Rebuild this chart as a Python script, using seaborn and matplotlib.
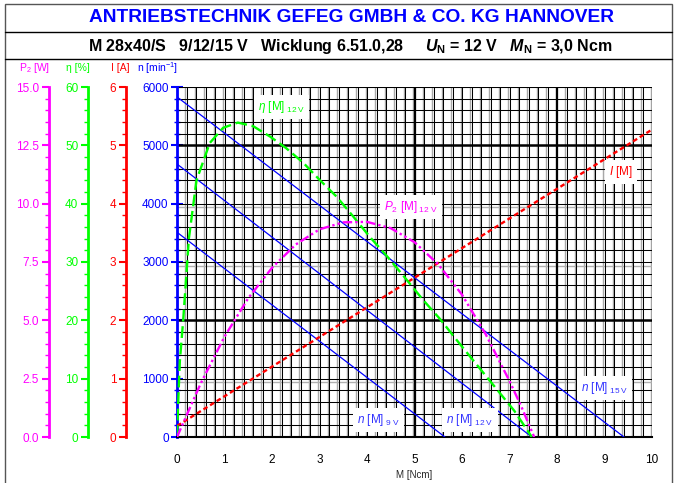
import numpy as np
import pandas as pd
import matplotlib
matplotlib.use("Agg")
import matplotlib.pyplot as plt
from matplotlib.patches import Rectangle
from matplotlib.lines import Line2D
import seaborn as sns

# ----------------------------
# Data (12 V unless noted)
# ----------------------------
# speed lines n(M): endpoints (no-load speed, stall torque)
n_torque_9v = [0.0, 5.64]
n_speed_9v = [3510, 0]
n_torque_12v = [0.0, 7.47]
n_speed_12v = [4680, 0]
n_torque_15v = [0.0, 9.41]
n_speed_15v = [5830, 0]

# current I(M)
i_torque = [0.0, 10.0]
i_amp = [0.19, 5.27]

# efficiency eta(M) at 12 V
eta_torque = [0, 0.03, 0.06, 0.13, 0.19, 0.25, 0.41, 0.69, 0.97, 1.28, 1.6, 1.96,
              2.3, 2.66, 3.0, 3.36, 3.7, 4.06, 4.42, 4.8, 5.18, 5.54, 5.9, 6.3,
              6.7, 7.1, 7.47]
eta_pct = [0, 7, 13, 20, 27, 34, 44, 50.4, 53, 53.9, 53.3, 51.5,
           49.5, 47, 44.1, 41.2, 37.9, 34.3, 31, 27.3, 23.5, 20.2, 16.5, 12.5,
           8.5, 4.5, 0]

# output power P2(M) at 12 V
p2_torque = [0, 0.5, 1.0, 1.5, 2.0, 2.5, 3.0, 3.5, 4.0, 4.5, 5.0, 5.5, 6.0, 6.5,
             7.0, 7.25, 7.52]
p2_watt = [0, 2.3, 4.3, 5.95, 7.25, 8.25, 8.9, 9.2, 9.22, 8.95, 8.35, 7.4, 6.1,
           4.4, 2.4, 1.3, 0]

x_ticks = list(range(0, 11))
n_ticks = [0, 1000, 2000, 3000, 4000, 5000, 6000]
p2_ticks = [0.0, 2.5, 5.0, 7.5, 10.0, 12.5, 15.0]
eta_ticks = [0, 10, 20, 30, 40, 50, 60]
i_ticks = [0, 1, 2, 3, 4, 5, 6]

# ----------------------------
# Style
# ----------------------------
sns.set_style("white")
plt.rcParams['font.family'] = ['Liberation Sans', 'DejaVu Sans']
plt.rcParams['mathtext.fontset'] = 'custom'
plt.rcParams['mathtext.it'] = 'Liberation Sans:italic'
plt.rcParams['mathtext.rm'] = 'Liberation Sans'
plt.rcParams['mathtext.bfit'] = 'Liberation Sans:bold:italic'

BLUE = '#0000FF'
RED = '#FF0000'
GREEN = '#00FF00'
MAGENTA = '#FF00FF'

fig = plt.figure(figsize=(6.77, 4.83), dpi=100)

# header frame
fig.patches.append(Rectangle((5 / 677, -0.05), 667 / 677, 1.05 - 4 / 483,
                             transform=fig.transFigure, fill=False,
                             edgecolor='#555555', lw=1.0))
for yl in [32, 59]:
    fig.lines.append(Line2D([5 / 677, 672 / 677], [1 - yl / 483, 1 - yl / 483],
                            transform=fig.transFigure, color='black', lw=1.0))

fig.text(352 / 677, 1 - 18 / 483, "ANTRIEBSTECHNIK GEFEG GMBH & CO. KG HANNOVER",
         ha='center', va='center', fontsize=13.8, fontweight='bold', color=BLUE)
fig.text(350 / 677, 1 - 46 / 483,
         r"M 28x40/S   9/12/15 V   Wicklung 6.51.0,28     $\mathbfit{U}_{\mathregular{N}}$ = 12 V   "
         r"$\mathbfit{M}_{\mathregular{N}}$ = 3,0 Ncm",
         ha='center', va='center', fontsize=11.5, fontweight='bold', color='black')

# ----------------------------
# Main axis (speed) + grid
# ----------------------------
L, R, B, T = 177 / 677, 652 / 677, 1 - 437 / 483, 1 - 87 / 483
ax = fig.add_axes([L, B, R - L, T - B])
ax.set_xlim(0, 10)
ax.set_ylim(0, 6000)

for xv in np.arange(0, 10.01, 0.2):
    ax.axvline(xv - 0.03, color='#a8a8a8', lw=1.0, zorder=0.5)
    ax.axvline(xv, color='black', lw=0.75, zorder=0.6)
for yv in np.arange(0, 6001, 200):
    ax.axhline(yv, color='black', lw=0.75, zorder=0.6)
for yv in [1000, 3000, 4000]:
    ax.axhline(yv - 60, color='#b0b0b0', lw=1.0, zorder=0.5)
ax.axhline(6000, color='#a0a0a0', lw=1.5, zorder=0.5)
for xv in [5, 8]:
    ax.axvline(xv, color='black', lw=1.6, zorder=0.7)
for yv in [2000, 5000]:
    ax.axhline(yv, color='black', lw=1.8, zorder=0.7)

for xs, ys in [(n_torque_9v, n_speed_9v), (n_torque_12v, n_speed_12v),
               (n_torque_15v, n_speed_15v)]:
    sns.lineplot(x=xs, y=ys, ax=ax, color=BLUE, lw=0.9, sort=False,
                 estimator=None, zorder=3)

for s in ['top', 'right']:
    ax.spines[s].set_visible(False)
ax.spines['left'].set_color(BLUE)
ax.spines['left'].set_linewidth(2)
ax.spines['bottom'].set_color('black')
ax.spines['bottom'].set_linewidth(1.5)
ax.set_xticks(x_ticks)
ax.set_xticks(np.arange(0, 10.01, 0.2), minor=True)
ax.set_yticks(n_ticks)
ax.set_yticks(np.arange(0, 6001, 200), minor=True)
ax.tick_params(axis='x', which='major', direction='out', length=5, width=1.5,
               labelsize=8.5, pad=7, colors='black')
ax.tick_params(axis='x', which='minor', direction='out', length=3, width=1)
ax.tick_params(axis='y', which='major', direction='inout', length=8, width=1.5,
               labelsize=8.5, colors=BLUE, pad=2)
ax.tick_params(axis='y', which='minor', direction='inout', length=4, width=1,
               colors=BLUE)
ax.set_xlabel("M [Ncm]", fontsize=7, labelpad=3)
ax.set_ylabel("")
ax.set_facecolor('white')


def side_axis(frac, color, lim, ticks, minor, fmt):
    a = ax.twinx()
    a.set_ylim(*lim)
    a.spines['left'].set_position(('axes', frac))
    a.spines['left'].set_visible(True)
    a.spines['left'].set_color(color)
    a.spines['left'].set_linewidth(2)
    for s in ['top', 'right', 'bottom']:
        a.spines[s].set_visible(False)
    a.yaxis.set_ticks_position('left')
    a.yaxis.set_label_position('left')
    a.set_yticks(ticks)
    a.set_yticklabels([fmt.format(t) for t in ticks])
    a.set_yticks(minor, minor=True)
    a.tick_params(axis='y', which='major', direction='out', length=5, width=1.5,
                  labelsize=8.5, colors=color, pad=2)
    a.tick_params(axis='y', which='minor', direction='out', length=3, width=1,
                  colors=color)
    a.patch.set_visible(False)
    return a


ax_i = side_axis(-0.1074, RED, (0, 6), i_ticks, np.arange(0, 6.01, 0.2), "{:d}")
ax_eta = side_axis(-0.1874, GREEN, (0, 60), eta_ticks, np.arange(0, 60.1, 2), "{:d}")
ax_p2 = side_axis(-0.2695, MAGENTA, (0, 15), p2_ticks, np.arange(0, 15.01, 0.5), "{:.1f}")

sns.lineplot(x=i_torque, y=i_amp, ax=ax_i, color=RED, lw=1.7, sort=False,
             estimator=None, linestyle=(0, (2, 1.3)))
sns.lineplot(x=eta_torque, y=eta_pct, ax=ax_eta, color=GREEN, lw=1.7, sort=False,
             estimator=None, linestyle=(0, (5, 2)))
sns.lineplot(x=p2_torque, y=p2_watt, ax=ax_p2, color=MAGENTA, lw=1.7, sort=False,
             estimator=None, linestyle=(0, (4, 1.3, 1, 1.3, 1, 1.3)))
for a in [ax_i, ax_eta, ax_p2]:
    a.set_xlim(0, 10)
    a.set_ylabel("")

# axis titles above the scales
for xp, txt, col in [(35, r"P$_2$ [W]", MAGENTA), (78, r"η [%]", GREEN),
                     (120, "I [A]", RED), (158, r"n [min$^{-1}$]", BLUE)]:
    fig.text(xp / 677, 1 - 68 / 483, txt, ha='center', va='center',
             fontsize=7.5, color=col)

# curve labels (drawn on the top axis, in main-axis data units)
box = dict(facecolor='white', edgecolor='none', pad=3)
labels = [
    (2.2, 5660, r"$\eta$ [M]$_{\mathregular{\ 12\ V}}$", GREEN),
    (4.93, 3945, r"$P_2$ [M]$_{\mathregular{\ 12\ V}}$", MAGENTA),
    (9.35, 4545, r"$I$ [M]", RED),
    (9.0, 840, r"$n$ [M]$_{\mathregular{\ 15\ V}}$", '#3333FF'),
    (4.25, 290, r"$n$ [M]$_{\mathregular{\ 9\ V}}$", '#3333FF'),
    (6.17, 290, r"$n$ [M]$_{\mathregular{\ 12\ V}}$", '#3333FF'),
]
for xv, yv, txt, col in labels:
    ax_p2.text(xv, yv / 400, txt, ha='center', va='center', fontsize=8.5,
               color=col, bbox=box, zorder=10)

fig.savefig("out.png", dpi=100)
